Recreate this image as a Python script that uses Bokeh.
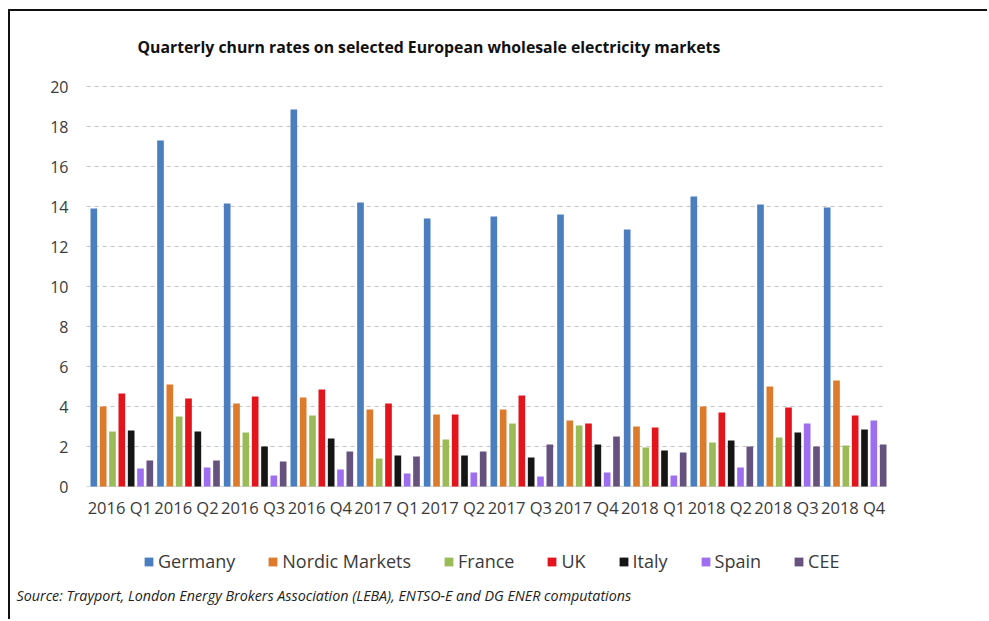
from bokeh.plotting import figure
from bokeh.models import Range1d, Legend, LegendItem, Label, FixedTicker, ColumnDataSource
from bokeh.transform import dodge
from bokeh.embed import file_html
from bokeh.resources import INLINE

# Quarterly churn rates (%) per market
quarters = ["2016 Q1", "2016 Q2", "2016 Q3", "2016 Q4",
            "2017 Q1", "2017 Q2", "2017 Q3", "2017 Q4",
            "2018 Q1", "2018 Q2", "2018 Q3", "2018 Q4"]
germany = [13.9, 17.3, 14.15, 18.85, 14.2, 13.4, 13.5, 13.6, 12.85, 14.5, 14.1, 13.95]
nordic = [4.0, 5.1, 4.15, 4.45, 3.85, 3.6, 3.85, 3.3, 3.0, 4.0, 5.0, 5.3]
france = [2.75, 3.5, 2.7, 3.55, 1.4, 2.35, 3.15, 3.05, 1.95, 2.2, 2.45, 2.05]
uk = [4.65, 4.4, 4.5, 4.85, 4.15, 3.6, 4.55, 3.15, 2.95, 3.7, 3.95, 3.55]
italy = [2.8, 2.75, 2.0, 2.4, 1.55, 1.55, 1.45, 2.1, 1.8, 2.3, 2.7, 2.85]
spain = [0.9, 0.95, 0.55, 0.85, 0.65, 0.7, 0.5, 0.7, 0.55, 0.95, 3.15, 3.3]
cee = [1.3, 1.3, 1.25, 1.75, 1.5, 1.75, 2.1, 2.5, 1.7, 2.0, 2.0, 2.1]
y_ticks = [0, 2, 4, 6, 8, 10, 12, 14, 16, 18, 20]

series_names = ["Germany", "Nordic Markets", "France", "UK", "Italy", "Spain", "CEE"]
series_values = [germany, nordic, france, uk, italy, spain, cee]
colors = ["#4a7ebf", "#dd7a2b", "#9bbb59", "#e3141c", "#151515", "#9d6ff0", "#66527f"]

FONT = "Open Sans"
W, H = 979, 610                 # canvas size inside the frame border
LEFT, RIGHT = 76, 876           # horizontal extent of the bar area (px)
TOP, BOTTOM = 75, 475           # vertical extent of the bar area (px)

n = len(quarters)
y_max = y_ticks[-1]
px_x = (RIGHT - LEFT) / n
px_y = (BOTTOM - TOP) / y_max
x0 = -0.5 - LEFT / px_x
y0 = -(H - BOTTOM) / px_y

idx = list(range(n))
source = ColumnDataSource(dict(idx=idx, **{f"s{i}": v for i, v in enumerate(series_values)}))

p = figure(x_range=Range1d(x0, x0 + W / px_x), y_range=Range1d(y0, y0 + H / px_y),
           width=W, height=H, output_backend="svg", toolbar_location=None,
           min_border=0)
p.margin = (9, 0, 0, 8)
p.styles = {"border-top": "2px solid #111", "border-left": "2px solid #111"}
p.outline_line_color = None
p.background_fill_color = "white"
p.border_fill_color = "white"
p.xgrid.visible = False
p.ygrid.visible = False

# dotted horizontal gridlines across the bar area, plus the baseline
p.segment(x0=-0.5, x1=n - 0.5, y0=y_ticks[1:], y1=y_ticks[1:],
          line_color="#c4c4c4", line_dash="4 4", line_width=1)
p.segment(x0=[-0.5], x1=[n - 0.5], y0=[0], y1=[0], line_color="#d4d4d4", line_width=1)

pitch = 0.14
shift = 0.03
items = []
for i, (name, color) in enumerate(zip(series_names, colors)):
    r = p.vbar(x=dodge("idx", (i - 3) * pitch + shift), top=f"s{i}", width=0.1,
               source=source, color=color, line_color=None)
    items.append(LegendItem(label=name, renderers=[r]))

# axes drawn inside the frame
p.yaxis.fixed_location = -0.5
p.yaxis.ticker = FixedTicker(ticks=y_ticks)
p.yaxis.axis_line_color = None
p.yaxis.major_tick_line_color = None
p.yaxis.minor_tick_line_color = None
p.yaxis.major_label_standoff = 12
p.yaxis.major_label_text_font = FONT
p.yaxis.major_label_text_font_size = "16px"
p.yaxis.major_label_text_color = "#3a3a3a"

p.xaxis.fixed_location = 0
p.xaxis.ticker = FixedTicker(ticks=idx)
p.xaxis.major_label_overrides = {i: q for i, q in zip(idx, quarters)}
p.xaxis.axis_line_color = None
p.xaxis.major_tick_line_color = None
p.xaxis.minor_tick_line_color = None
p.xaxis.major_label_standoff = 3
p.xaxis.major_label_text_font = FONT
p.xaxis.major_label_text_font_size = "16.5px"
p.xaxis.major_label_text_color = "#3a3a3a"

heading = Label(x=127, y=H - 35, x_units="screen", y_units="screen",
                text="Quarterly churn rates on selected European wholesale electricity markets",
                text_font=FONT, text_font_size="15.8px", text_font_style="bold",
                text_color="#111111", text_baseline="middle", text_align="left")
p.add_layout(heading)

legend = Legend(items=items, orientation="horizontal", location=(133, 48),
                label_text_font=FONT, label_text_font_size="18px", label_text_color="#3a3a3a",
                glyph_width=11, glyph_height=11, label_standoff=4, spacing=32,
                padding=4, margin=0, border_line_color=None, background_fill_alpha=0)
p.add_layout(legend, "center")

note = Label(x=6, y=26, x_units="screen", y_units="screen",
             text="Source: Trayport, London Energy Brokers Association (LEBA), ENTSO-E and DG ENER computations",
             text_font=FONT, text_font_size="14.3px", text_font_style="italic",
             text_color="#222222", text_baseline="middle", text_align="left")
p.add_layout(note)

open("out.html", "w").write(file_html(p, INLINE))
